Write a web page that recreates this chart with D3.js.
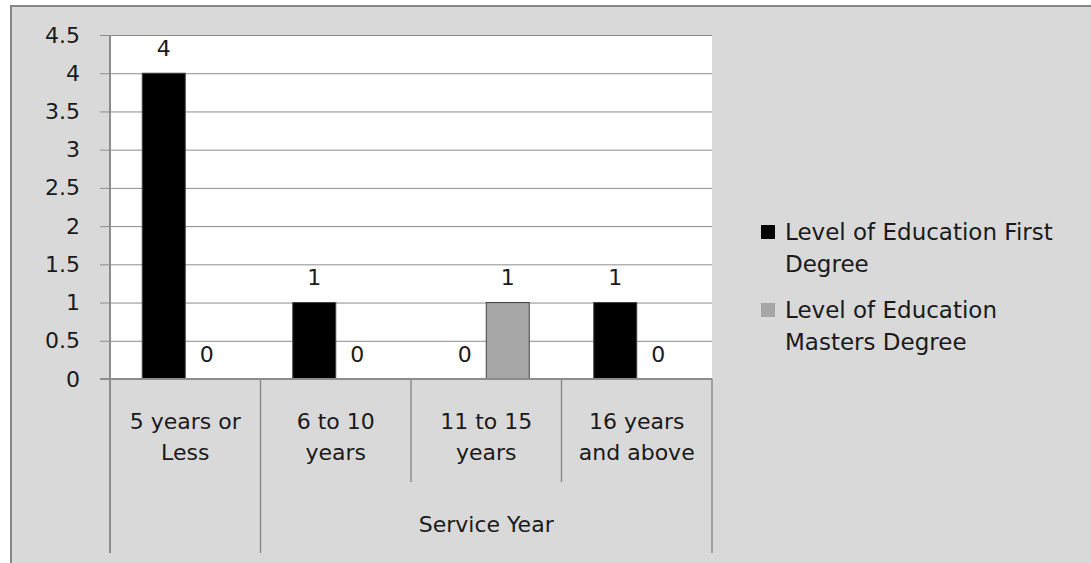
<!DOCTYPE html>
<html>
<head>
<meta charset="utf-8">
<script src="https://cdn.jsdelivr.net/npm/d3@7"></script>
<style>
  body { margin: 0; background: #ffffff; }
  text { font-family: "DejaVu Sans", sans-serif; fill: #1a1a1a; }
</style>
</head>
<body>
<div id="chart"></div>
<script>
var svgWidth = 1091;
var svgHeight = 563;

// Data
var categories = ["5 years or Less", "6 to 10 years", "11 to 15 years", "16 years and above"];
var categoryLines = [["5 years or", "Less"], ["6 to 10", "years"], ["11 to 15", "years"], ["16 years", "and above"]];
var seriesNames = ["Level of Education First Degree", "Level of Education Masters Degree"];
var legendLines = [["Level of Education First", "Degree"], ["Level of Education", "Masters Degree"]];
var firstDegree = [4, 1, 0, 1];
var mastersDegree = [0, 0, 1, 0];
var yTicks = [0, 0.5, 1, 1.5, 2, 2.5, 3, 3.5, 4, 4.5];
var groupLabel = "Service Year";
var groupStart = 1; // "Service Year" spans categories 1..3

var colors = ["#000000", "#a6a6a6"];

var plot = { left: 110, right: 712, top: 35, bottom: 379 };

var svg = d3.select("#chart")
    .append("svg")
    .attr("width", svgWidth)
    .attr("height", svgHeight);

// chart area background and border
svg.append("rect")
    .attr("x", 0).attr("y", 0)
    .attr("width", svgWidth).attr("height", svgHeight)
    .attr("fill", "#ffffff");

svg.append("rect")
    .attr("x", 11).attr("y", 6)
    .attr("width", svgWidth + 20).attr("height", svgHeight + 20)
    .attr("fill", "#d9d9d9")
    .attr("stroke", "#868686")
    .attr("stroke-width", 2);

// plot area
svg.append("rect")
    .attr("x", plot.left).attr("y", plot.top)
    .attr("width", plot.right - plot.left).attr("height", plot.bottom - plot.top)
    .attr("fill", "#ffffff");

// scales
var x0 = d3.scaleBand()
    .domain(categories)
    .range([plot.left, plot.right])
    .padding(0);

var x1 = d3.scaleBand()
    .domain(seriesNames)
    .range([0, x0.bandwidth()])
    .paddingInner(0)
    .paddingOuter(0.75);

var y = d3.scaleLinear()
    .domain([0, 4.5])
    .range([plot.bottom, plot.top]);

// gridlines + y axis
var leftAxis = d3.axisLeft(y)
    .tickValues(yTicks)
    .tickSize(-(plot.right - plot.left + 10))
    .tickSizeOuter(0)
    .tickPadding(20)
    .tickFormat(d => String(d));

var yAxisG = svg.append("g")
    .attr("transform", `translate(${plot.left - 10}, 0)`)
    .call(leftAxis);

yAxisG.select(".domain").remove();
yAxisG.selectAll(".tick line")
    .attr("stroke", "#8c8c8c")
    .attr("stroke-width", 1);
yAxisG.selectAll(".tick text")
    .attr("font-size", "22px")
    .attr("font-family", "DejaVu Sans, sans-serif")
    .attr("fill", "#1a1a1a");

// y axis line
svg.append("line")
    .attr("x1", plot.left).attr("x2", plot.left)
    .attr("y1", plot.top).attr("y2", plot.bottom)
    .attr("stroke", "#8c8c8c")
    .attr("stroke-width", 2);

// bars
var rows = categories.map((c, i) => ({
    category: c,
    values: [
        { series: seriesNames[0], value: firstDegree[i], color: colors[0] },
        { series: seriesNames[1], value: mastersDegree[i], color: colors[1] }
    ]
}));

var groups = svg.selectAll(".group")
    .data(rows)
    .enter()
    .append("g")
    .attr("class", "group")
    .attr("transform", d => `translate(${x0(d.category)}, 0)`);

groups.selectAll("rect")
    .data(d => d.values)
    .enter()
    .append("rect")
    .attr("x", d => x1(d.series))
    .attr("width", x1.bandwidth())
    .attr("y", d => y(d.value))
    .attr("height", d => y(0) - y(d.value))
    .attr("fill", d => d.color)
    .attr("stroke", d => d.value > 0 ? "#404040" : "none")
    .attr("stroke-width", 1);

// data labels
groups.selectAll("text.value")
    .data(d => d.values)
    .enter()
    .append("text")
    .attr("class", "value")
    .attr("x", d => x1(d.series) + x1.bandwidth() / 2)
    .attr("y", d => y(d.value) - 25)
    .attr("text-anchor", "middle")
    .attr("dominant-baseline", "central")
    .attr("font-size", "22px")
    .text(d => d.value);

// x axis line
svg.append("line")
    .attr("x1", plot.left - 10).attr("x2", plot.right)
    .attr("y1", plot.bottom).attr("y2", plot.bottom)
    .attr("stroke", "#8c8c8c")
    .attr("stroke-width", 2);

// category dividers: full height at group edges, short inside the group
var edges = categories.map(c => x0(c)).concat([plot.right]);
svg.selectAll("line.divider")
    .data(edges)
    .enter()
    .append("line")
    .attr("class", "divider")
    .attr("x1", d => d).attr("x2", d => d)
    .attr("y1", plot.bottom)
    .attr("y2", (d, i) => (i === 0 || i === groupStart || i === categories.length) ? 553 : 482)
    .attr("stroke", "#8c8c8c")
    .attr("stroke-width", (d, i) => i === 0 ? 2 : 1.5);

// category labels
var catLabels = svg.selectAll("text.cat")
    .data(categories)
    .enter()
    .append("text")
    .attr("class", "cat")
    .attr("x", d => x0(d) + x0.bandwidth() / 2)
    .attr("y", 421)
    .attr("text-anchor", "middle")
    .attr("dominant-baseline", "central")
    .attr("font-size", "22px");

catLabels.selectAll("tspan")
    .data((d, i) => categoryLines[i])
    .enter()
    .append("tspan")
    .attr("x", function() { return d3.select(this.parentNode).attr("x"); })
    .attr("dy", (d, i) => i === 0 ? 0 : 31)
    .text(d => d);

// group label
svg.append("text")
    .attr("x", (x0(categories[groupStart]) + plot.right) / 2)
    .attr("y", 524)
    .attr("text-anchor", "middle")
    .attr("dominant-baseline", "central")
    .attr("font-size", "22px")
    .text(groupLabel);

// legend
var legend = svg.selectAll(".legend")
    .data(seriesNames)
    .enter()
    .append("g")
    .attr("class", "legend")
    .attr("transform", (d, i) => `translate(761, ${225 + i * 78})`);

legend.append("rect")
    .attr("width", 14).attr("height", 14)
    .attr("fill", (d, i) => colors[i]);

legend.append("text")
    .attr("x", 24)
    .attr("y", 7)
    .attr("dominant-baseline", "central")
    .attr("font-size", "23px")
    .selectAll("tspan")
    .data((d, i) => legendLines[i])
    .enter()
    .append("tspan")
    .attr("x", 24)
    .attr("dy", (d, i) => i === 0 ? 0 : 32)
    .text(d => d);
</script>
</body>
</html>
